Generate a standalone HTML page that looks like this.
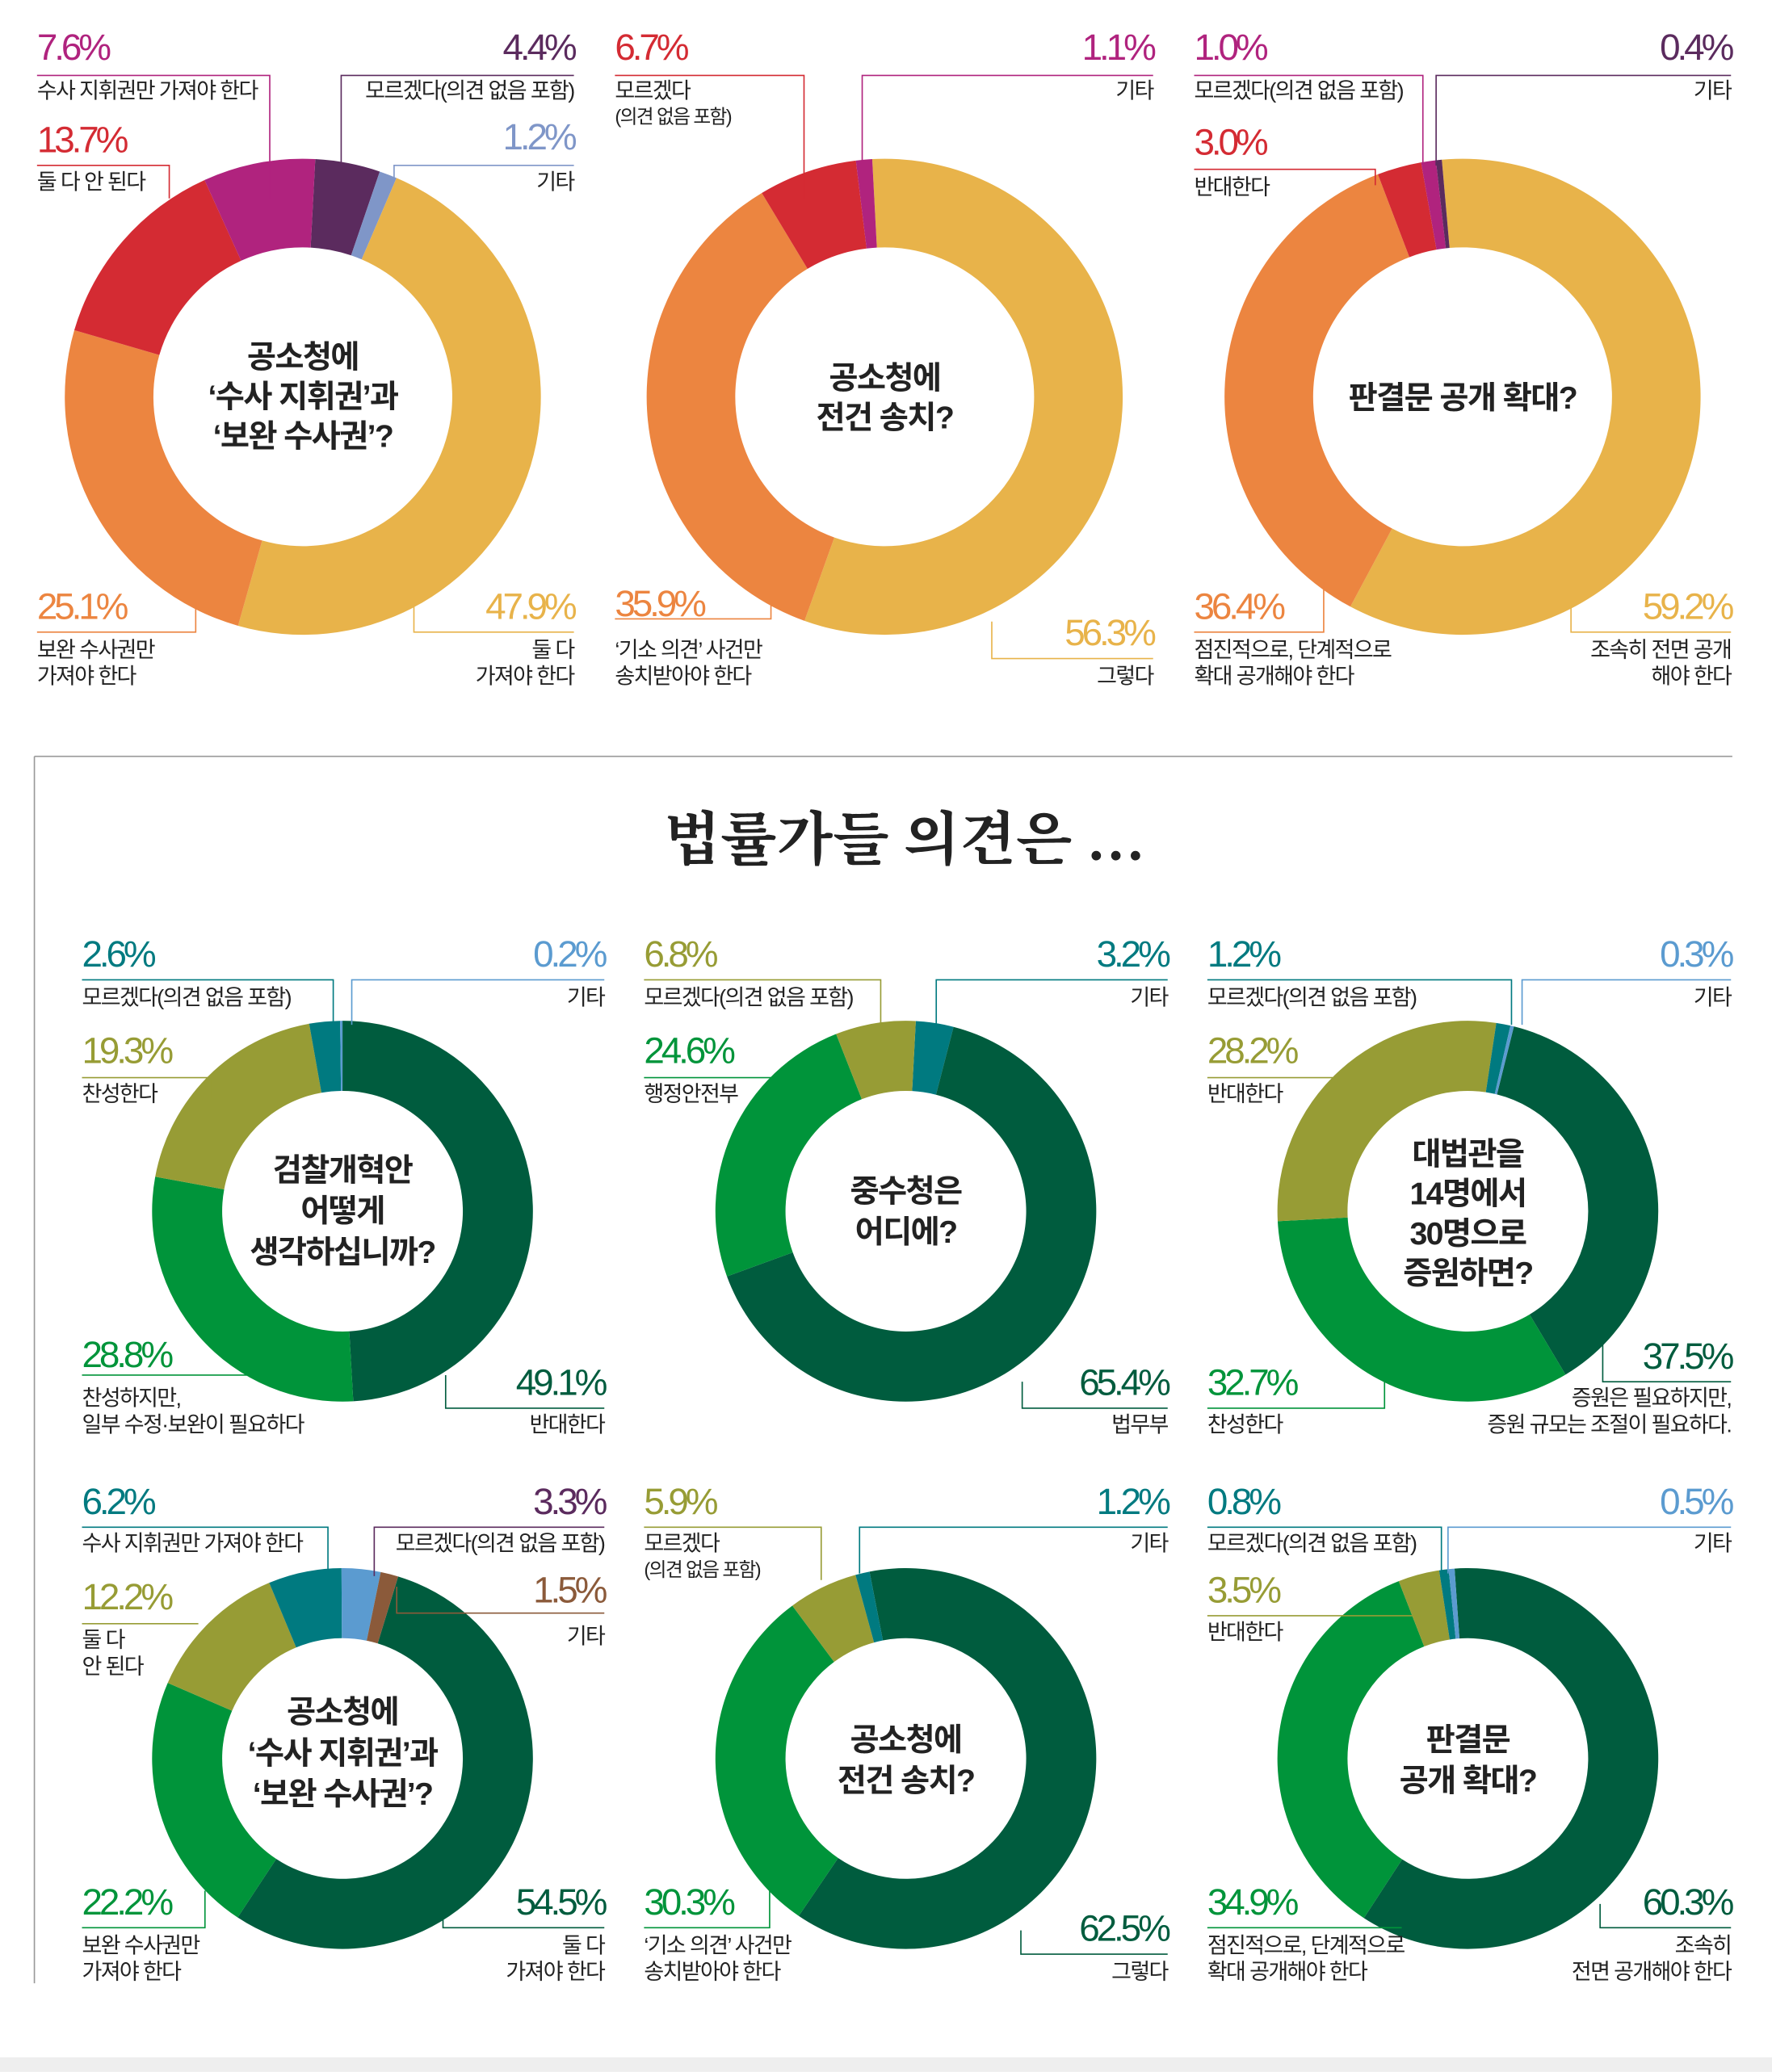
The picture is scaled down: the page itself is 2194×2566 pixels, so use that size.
<!DOCTYPE html>
<html><head><meta charset="utf-8">
<style>
html,body{margin:0;padding:0;background:#fff;}
svg{display:block;}
.p{font-family:"Liberation Sans","Noto Sans CJK KR",sans-serif;font-size:28px;letter-spacing:-2.5px;font-weight:300;}
.l{font-family:"Liberation Sans","Noto Sans CJK KR",sans-serif;font-size:16.5px;fill:#222;letter-spacing:-1px;}
.s{font-size:14.5px;}
.c{font-family:"Liberation Sans","Noto Sans CJK KR",sans-serif;font-size:24px;font-weight:700;fill:#222;text-anchor:middle;letter-spacing:-1px;}
.r{text-anchor:end;}
.ln{fill:none;stroke-width:1;}
</style></head>
<body>
<svg id="chart" width="2194" height="2566" viewBox="0 0 1340 1567" xmlns="http://www.w3.org/2000/svg">
<rect x="0" y="1556" width="1340" height="11" fill="#eeeeee"/>
<path d="M26 572 H1310 M26 572 V1500" stroke="#999" stroke-width="1" fill="none"/>
<text x="684" y="650" text-anchor="middle" style="font-family:'Liberation Serif','Noto Serif CJK SC',serif;font-size:44px;font-weight:700;fill:#222">법률가들 의견은 …</text>
<g id="donuts"></g>

<!-- Chart 1 labels -->
<g>
<path class="ln" stroke="#b0237e" d="M28 57H204V150"/>
<text class="p" x="28" y="45" fill="#b0237e">7.6%</text><text class="l" x="28" y="74">수사 지휘권만 가져야 한다</text>
<path class="ln" stroke="#5b2b5e" d="M434 57H258V125"/>
<text class="p r" x="434" y="45" fill="#5b2b5e">4.4%</text><text class="l r" x="434" y="74">모르겠다(의견 없음 포함)</text>
<path class="ln" stroke="#d42b33" d="M28 125H128V150"/>
<text class="p" x="28" y="115" fill="#d42b33">13.7%</text><text class="l" x="28" y="143">둘 다 안 된다</text>
<path class="ln" stroke="#7f96c8" d="M434 125H298V135"/>
<text class="p r" x="434" y="113" fill="#7f96c8">1.2%</text><text class="l r" x="434" y="143">기타</text>
<path class="ln" stroke="#ec8540" d="M28 478H148V455"/>
<text class="p" x="28" y="468" fill="#ec8540">25.1%</text><text class="l" x="28" y="497">보완 수사권만</text><text class="l" x="28" y="517">가져야 한다</text>
<path class="ln" stroke="#e8b34a" d="M434 478H313V455"/>
<text class="p r" x="434" y="468" fill="#e8b34a">47.9%</text><text class="l r" x="434" y="497">둘 다</text><text class="l r" x="434" y="517">가져야 한다</text>
<text class="c" x="229" y="278">공소청에</text><text class="c" x="229" y="308">‘수사 지휘권’과</text><text class="c" x="229" y="338">‘보완 수사권’?</text>
</g>
<!-- Chart 2 labels -->
<g>
<path class="ln" stroke="#d42b33" d="M465 57H608V150"/>
<text class="p" x="465" y="45" fill="#d42b33">6.7%</text><text class="l" x="465" y="74">모르겠다</text><text class="l s" x="465" y="93">(의견 없음 포함)</text>
<path class="ln" stroke="#b0237e" d="M872 57H652V122"/>
<text class="p r" x="872" y="45" fill="#b0237e">1.1%</text><text class="l r" x="872" y="74">기타</text>
<path class="ln" stroke="#ec8540" d="M465 468H583V440"/>
<text class="p" x="465" y="466" fill="#ec8540">35.9%</text><text class="l" x="465" y="497">‘기소 의견’ 사건만</text><text class="l" x="465" y="517">송치받아야 한다</text>
<path class="ln" stroke="#e8b34a" d="M872 498H750V470"/>
<text class="p r" x="872" y="488" fill="#e8b34a">56.3%</text><text class="l r" x="872" y="517">그렇다</text>
<text class="c" x="669" y="294">공소청에</text><text class="c" x="669" y="324">전건 송치?</text>
</g>
<!-- Chart 3 labels -->
<g>
<path class="ln" stroke="#b0237e" d="M903 57H1076V125"/>
<text class="p" x="903" y="45" fill="#b0237e">1.0%</text><text class="l" x="903" y="74">모르겠다(의견 없음 포함)</text>
<path class="ln" stroke="#5b2b5e" d="M1309 57H1086V125"/>
<text class="p r" x="1309" y="45" fill="#5b2b5e">0.4%</text><text class="l r" x="1309" y="74">기타</text>
<path class="ln" stroke="#d42b33" d="M903 128H1040V140"/>
<text class="p" x="903" y="117" fill="#d42b33">3.0%</text><text class="l" x="903" y="147">반대한다</text>
<path class="ln" stroke="#ec8540" d="M903 478H1001V440"/>
<text class="p" x="903" y="468" fill="#ec8540">36.4%</text><text class="l" x="903" y="497">점진적으로, 단계적으로</text><text class="l" x="903" y="517">확대 공개해야 한다</text>
<path class="ln" stroke="#e8b34a" d="M1309 478H1188V455"/>
<text class="p r" x="1309" y="468" fill="#e8b34a">59.2%</text><text class="l r" x="1309" y="497">조속히 전면 공개</text><text class="l r" x="1309" y="517">해야 한다</text>
<text class="c" x="1106" y="309">판결문 공개 확대?</text>
</g>
<!-- Chart 4 labels -->
<g>
<path class="ln" stroke="#007a80" d="M62 741H252V775"/>
<text class="p" x="62" y="731" fill="#007a80">2.6%</text><text class="l" x="62" y="760">모르겠다(의견 없음 포함)</text>
<path class="ln" stroke="#5b9bd0" d="M457 741H266V775"/>
<text class="p r" x="457" y="731" fill="#5b9bd0">0.2%</text><text class="l r" x="457" y="760">기타</text>
<path class="ln" stroke="#979c35" d="M62 815H160V830"/>
<text class="p" x="62" y="804" fill="#979c35">19.3%</text><text class="l" x="62" y="833">찬성한다</text>
<path class="ln" stroke="#00943a" d="M62 1040H200"/>
<text class="p" x="62" y="1034" fill="#00943a">28.8%</text><text class="l" x="62" y="1063">찬성하지만,</text><text class="l" x="62" y="1083">일부 수정·보완이 필요하다</text>
<path class="ln" stroke="#005c3e" d="M457 1065H337V1040"/>
<text class="p r" x="457" y="1055" fill="#005c3e">49.1%</text><text class="l r" x="457" y="1083">반대한다</text>
<text class="c" x="259" y="893">검찰개혁안</text><text class="c" x="259" y="924">어떻게</text><text class="c" x="259" y="955">생각하십니까?</text>
</g>
<!-- Chart 5 labels -->
<g>
<path class="ln" stroke="#979c35" d="M487 741H666V775"/>
<text class="p" x="487" y="731" fill="#979c35">6.8%</text><text class="l" x="487" y="760">모르겠다(의견 없음 포함)</text>
<path class="ln" stroke="#007a80" d="M883 741H708V775"/>
<text class="p r" x="883" y="731" fill="#007a80">3.2%</text><text class="l r" x="883" y="760">기타</text>
<path class="ln" stroke="#00943a" d="M487 815H600"/>
<text class="p" x="487" y="804" fill="#00943a">24.6%</text><text class="l" x="487" y="833">행정안전부</text>
<path class="ln" stroke="#005c3e" d="M883 1065H773V1045"/>
<text class="p r" x="883" y="1055" fill="#005c3e">65.4%</text><text class="l r" x="883" y="1083">법무부</text>
<text class="c" x="685" y="909">중수청은</text><text class="c" x="685" y="940">어디에?</text>
</g>
<!-- Chart 6 labels -->
<g>
<path class="ln" stroke="#007a80" d="M913 741H1143V775"/>
<text class="p" x="913" y="731" fill="#007a80">1.2%</text><text class="l" x="913" y="760">모르겠다(의견 없음 포함)</text>
<path class="ln" stroke="#5b9bd0" d="M1309 741H1151V775"/>
<text class="p r" x="1309" y="731" fill="#5b9bd0">0.3%</text><text class="l r" x="1309" y="760">기타</text>
<path class="ln" stroke="#979c35" d="M913 815H1010"/>
<text class="p" x="913" y="804" fill="#979c35">28.2%</text><text class="l" x="913" y="833">반대한다</text>
<path class="ln" stroke="#00943a" d="M913 1065H1047V1040"/>
<text class="p" x="913" y="1055" fill="#00943a">32.7%</text><text class="l" x="913" y="1083">찬성한다</text>
<path class="ln" stroke="#005c3e" d="M1309 1045H1212V1010"/>
<text class="p r" x="1309" y="1035" fill="#005c3e">37.5%</text><text class="l r" x="1309" y="1063">증원은 필요하지만,</text><text class="l r" x="1309" y="1083">증원 규모는 조절이 필요하다.</text>
<text class="c" x="1110" y="881">대법관을</text><text class="c" x="1110" y="911">14명에서</text><text class="c" x="1110" y="941">30명으로</text><text class="c" x="1110" y="971">증원하면?</text>
</g>
<!-- Chart 7 labels -->
<g>
<path class="ln" stroke="#007a80" d="M62 1155H248V1190"/>
<text class="p" x="62" y="1145" fill="#007a80">6.2%</text><text class="l" x="62" y="1173">수사 지휘권만 가져야 한다</text>
<path class="ln" stroke="#5b2b5e" d="M457 1155H283V1192"/>
<text class="p r" x="457" y="1145" fill="#5b2b5e">3.3%</text><text class="l r" x="457" y="1173">모르겠다(의견 없음 포함)</text>
<path class="ln" stroke="#979c35" d="M62 1228H150"/>
<text class="p" x="62" y="1217" fill="#979c35">12.2%</text><text class="l" x="62" y="1246">둘 다</text><text class="l" x="62" y="1266">안 된다</text>
<path class="ln" stroke="#8b5a3a" d="M457 1220H300V1200"/>
<text class="p r" x="457" y="1212" fill="#8b5a3a">1.5%</text><text class="l r" x="457" y="1243">기타</text>
<path class="ln" stroke="#00943a" d="M62 1458H155V1430"/>
<text class="p" x="62" y="1448" fill="#00943a">22.2%</text><text class="l" x="62" y="1477">보완 수사권만</text><text class="l" x="62" y="1497">가져야 한다</text>
<path class="ln" stroke="#005c3e" d="M457 1458H335V1440"/>
<text class="p r" x="457" y="1448" fill="#005c3e">54.5%</text><text class="l r" x="457" y="1477">둘 다</text><text class="l r" x="457" y="1497">가져야 한다</text>
<text class="c" x="259" y="1303">공소청에</text><text class="c" x="259" y="1334">‘수사 지휘권’과</text><text class="c" x="259" y="1365">‘보완 수사권’?</text>
</g>
<!-- Chart 8 labels -->
<g>
<path class="ln" stroke="#979c35" d="M487 1155H621V1195"/>
<text class="p" x="487" y="1145" fill="#979c35">5.9%</text><text class="l" x="487" y="1173">모르겠다</text><text class="l s" x="487" y="1192">(의견 없음 포함)</text>
<path class="ln" stroke="#007a80" d="M883 1155H650V1190"/>
<text class="p r" x="883" y="1145" fill="#007a80">1.2%</text><text class="l r" x="883" y="1173">기타</text>
<path class="ln" stroke="#00943a" d="M487 1458H582V1430"/>
<text class="p" x="487" y="1448" fill="#00943a">30.3%</text><text class="l" x="487" y="1477">‘기소 의견’ 사건만</text><text class="l" x="487" y="1497">송치받아야 한다</text>
<path class="ln" stroke="#005c3e" d="M883 1478H772V1460"/>
<text class="p r" x="883" y="1468" fill="#005c3e">62.5%</text><text class="l r" x="883" y="1497">그렇다</text>
<text class="c" x="685" y="1324">공소청에</text><text class="c" x="685" y="1355">전건 송치?</text>
</g>
<!-- Chart 9 labels -->
<g>
<path class="ln" stroke="#007a80" d="M913 1155H1090V1190"/>
<text class="p" x="913" y="1145" fill="#007a80">0.8%</text><text class="l" x="913" y="1173">모르겠다(의견 없음 포함)</text>
<path class="ln" stroke="#5b9bd0" d="M1309 1155H1095V1190"/>
<text class="p r" x="1309" y="1145" fill="#5b9bd0">0.5%</text><text class="l r" x="1309" y="1173">기타</text>
<path class="ln" stroke="#979c35" d="M913 1222H1075"/>
<text class="p" x="913" y="1212" fill="#979c35">3.5%</text><text class="l" x="913" y="1240">반대한다</text>
<path class="ln" stroke="#00943a" d="M913 1458H1060"/>
<text class="p" x="913" y="1448" fill="#00943a">34.9%</text><text class="l" x="913" y="1477">점진적으로, 단계적으로</text><text class="l" x="913" y="1497">확대 공개해야 한다</text>
<path class="ln" stroke="#005c3e" d="M1309 1458H1210V1440"/>
<text class="p r" x="1309" y="1448" fill="#005c3e">60.3%</text><text class="l r" x="1309" y="1477">조속히</text><text class="l r" x="1309" y="1497">전면 공개해야 한다</text>
<text class="c" x="1110" y="1324">판결문</text><text class="c" x="1110" y="1355">공개 확대?</text>
</g>
</svg>
<script>
// Data: shares (%) listed clockwise
const c1Categories = ["모르겠다","기타","둘 다 가져야","보완 수사권만","둘 다 안 된다","수사 지휘권만"];
const c1Values = [4.4, 1.2, 47.9, 25.1, 13.7, 7.6];
const c2Categories = ["그렇다","기소 의견만","모르겠다","기타"];
const c2Values = [56.3, 35.9, 6.7, 1.1];
const c3Categories = ["조속히 전면 공개","점진적 확대","반대","모르겠다","기타"];
const c3Values = [59.2, 36.4, 3.0, 1.0, 0.4];
const c4Categories = ["반대","찬성하지만 수정","찬성","모르겠다","기타"];
const c4Values = [49.1, 28.8, 19.3, 2.6, 0.2];
const c5Categories = ["기타","법무부","행정안전부","모르겠다"];
const c5Values = [3.2, 65.4, 24.6, 6.8];
const c6Categories = ["증원 규모 조절","찬성","반대","모르겠다","기타"];
const c6Values = [37.5, 32.7, 28.2, 1.2, 0.3];
const c7Categories = ["둘 다 가져야","보완 수사권만","둘 다 안 된다","수사 지휘권만","모르겠다","기타"];
const c7Values = [54.5, 22.2, 12.2, 6.2, 3.3, 1.5];
const c8Categories = ["그렇다","기소 의견만","모르겠다","기타"];
const c8Values = [62.5, 30.3, 5.9, 1.2];
const c9Categories = ["조속히 전면 공개","점진적 확대","반대","모르겠다","기타"];
const c9Values = [60.3, 34.9, 3.5, 0.8, 0.5];

const Y="#e8b34a",O="#ec8540",R="#d42b33",M="#b0237e",P="#5b2b5e",B="#7f96c8";
const DG="#005c3e",G="#00943a",OL="#979c35",T="#007a80",LB="#5b9bd0",BR="#8b5a3a";
const charts=[
 {v:c1Values,c:[P,B,Y,O,R,M],cx:229,cy:300,ro:180,ri:113,start:3},
 {v:c2Values,c:[Y,O,R,M],cx:669,cy:300,ro:180,ri:113,start:-3},
 {v:c3Values,c:[Y,O,R,M,P],cx:1106,cy:300,ro:180,ri:113,start:-5},
 {v:c4Values,c:[DG,G,OL,T,LB],cx:259,cy:916,ro:144,ri:91,start:0},
 {v:c5Values,c:[T,DG,G,OL],cx:685,cy:916,ro:144,ri:91,start:3},
 {v:c6Values,c:[DG,G,OL,T,LB],cx:1110,cy:916,ro:144,ri:91,start:14},
 {v:c7Values,c:[DG,G,OL,T,LB,BR],cx:259,cy:1330,ro:144,ri:91,start:17},
 {v:c8Values,c:[DG,G,OL,T],cx:685,cy:1330,ro:144,ri:91,start:-11},
 {v:c9Values,c:[DG,G,OL,T,LB],cx:1110,cy:1330,ro:144,ri:91,start:-4}
];
const NS="http://www.w3.org/2000/svg";
const root=document.getElementById('donuts');
function pt(cx,cy,r,a){const t=a*Math.PI/180;return [cx+r*Math.sin(t),cy-r*Math.cos(t)];}
charts.forEach((ch,ci)=>{
  const total=ch.v.reduce((a,b)=>a+b,0);
  let a=ch.start;
  const g=document.createElementNS(NS,'g');
  
  
  ch.v.forEach((val,i)=>{
    const sweep=val/total*360;
    const a2=a+sweep;
    const [x1,y1]=pt(ch.cx,ch.cy,ch.ro,a),[x2,y2]=pt(ch.cx,ch.cy,ch.ro,a2);
    const [x3,y3]=pt(ch.cx,ch.cy,ch.ri,a2),[x4,y4]=pt(ch.cx,ch.cy,ch.ri,a);
    const lg=sweep>180?1:0;
    const p=document.createElementNS(NS,'path');
    p.setAttribute('d',`M${x1} ${y1}A${ch.ro} ${ch.ro} 0 ${lg} 1 ${x2} ${y2}L${x3} ${y3}A${ch.ri} ${ch.ri} 0 ${lg} 0 ${x4} ${y4}Z`);
    p.setAttribute('fill',ch.c[i]);
    
    
    g.appendChild(p);
    a=a2;
  });
  root.appendChild(g);
});
</script>
</body></html>
